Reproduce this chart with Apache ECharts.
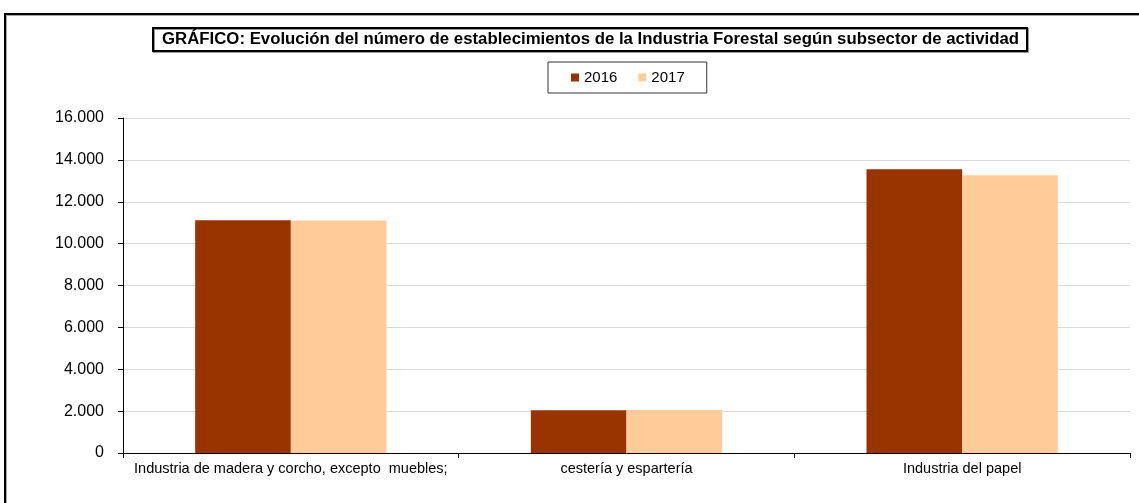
<!DOCTYPE html>
<html>
<head>
<meta charset="utf-8">
<script src="https://cdn.jsdelivr.net/npm/echarts@6/dist/echarts.min.js"></script>
<style>
    html, body { margin: 0; padding: 0; background: #fff; }
    #chart { width: 1139px; height: 503px; }
</style>
</head>
<body>
<div id="chart"></div>
<script>
// establecimientos por subsector
var categories = ['Industria de madera y corcho, excepto  muebles;', 'cestería y espartería', 'Industria del papel'];
var seriesNames = ['2016', '2017'];
var values2016 = [11120, 2047, 13554];
var values2017 = [11105, 2056, 13266];
var colors = ['#993300', '#FFCC99'];

function fmtMiles(v) {
    return String(v).replace(/\B(?=(\d{3})+(?!\d))/g, '.');
}

var myChart = echarts.init(document.getElementById('chart'));
var option = {
    animation: false,
    color: colors,
    textStyle: { fontFamily: 'Liberation Sans, Arial, sans-serif' },
    graphic: [
        {
            type: 'rect',
            shape: { x: 5, y: 14, width: 1200, height: 600 },
            style: { fill: 'none', stroke: '#000', lineWidth: 2, shadowColor: 'rgba(0,0,0,0.35)', shadowOffsetX: 1, shadowOffsetY: 1 },
            silent: true
        }
    ],
    title: {
        text: 'GRÁFICO: Evolución del número de establecimientos de la Industria Forestal según subsector de actividad',
        left: 153,
        top: 28,
        padding: [3, 8, 3, 9],
        borderColor: '#000',
        borderWidth: 2,
        shadowColor: 'rgba(0,0,0,0.4)',
        shadowOffsetX: 1,
        shadowOffsetY: 1,
        textStyle: {
            fontFamily: 'Liberation Sans, Arial, sans-serif',
            fontWeight: 'bold',
            fontSize: 16.8,
            color: '#000'
        }
    },
    legend: {
        data: seriesNames,
        left: 548,
        top: 62,
        padding: [8, 22, 8, 23],
        borderColor: '#333',
        borderWidth: 1,
        itemWidth: 8,
        itemHeight: 8,
        itemGap: 21,
        icon: 'rect',
        textStyle: { fontSize: 15, color: '#000' }
    },
    grid: {
        left: 123,
        right: 9,
        top: 118,
        bottom: 50
    },
    xAxis: {
        type: 'category',
        data: categories,
        axisLine: { lineStyle: { color: '#000', width: 1 } },
        axisTick: { show: true, interval: 0, length: 5, lineStyle: { color: '#000' } },
        axisLabel: { color: '#000', fontSize: 14.5, margin: 8, interval: 0 }
    },
    yAxis: {
        type: 'value',
        min: 0,
        max: 16000,
        interval: 2000,
        axisLine: { show: true, lineStyle: { color: '#000', width: 1 } },
        axisTick: { show: true, length: 5, lineStyle: { color: '#000' } },
        axisLabel: { color: '#000', fontSize: 16, margin: 19, formatter: fmtMiles },
        splitLine: { lineStyle: { color: '#d9d9d9', width: 1 } }
    },
    series: [
        {
            name: seriesNames[0],
            type: 'bar',
            data: values2016,
            barGap: '0%',
            barCategoryGap: '43%'
        },
        {
            name: seriesNames[1],
            type: 'bar',
            data: values2017
        }
    ]
};
myChart.setOption(option);
window.addEventListener("resize", function () {
    myChart.resize();
});
</script>
</body>
</html>
